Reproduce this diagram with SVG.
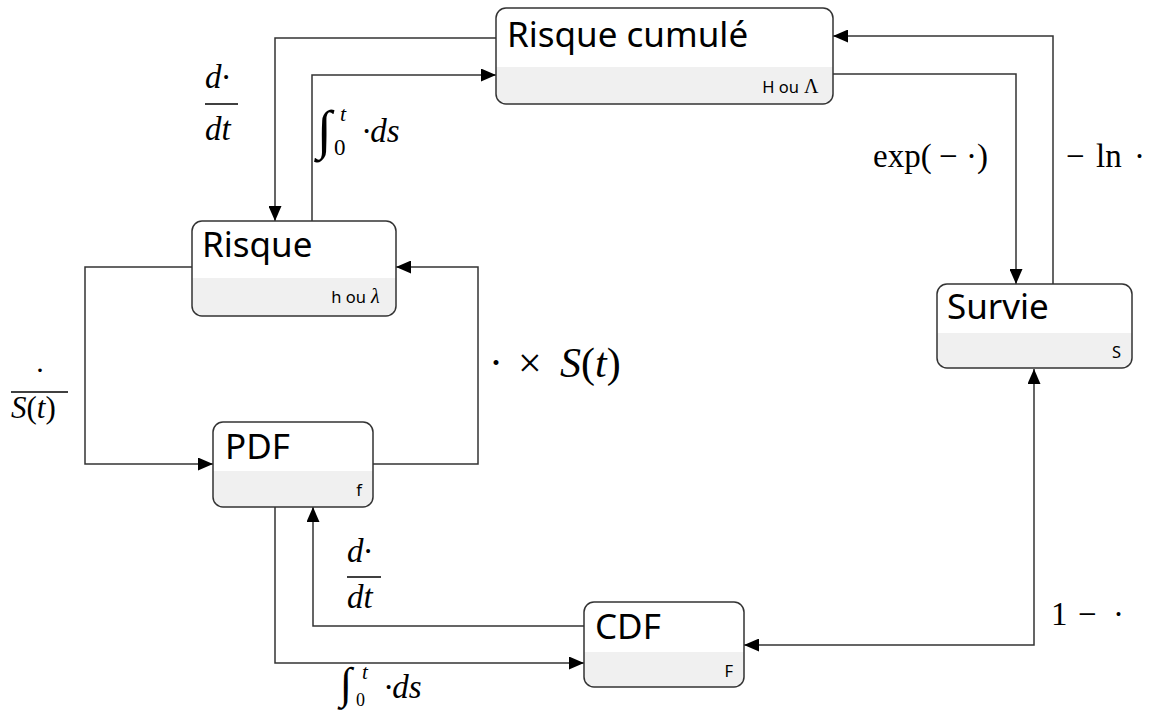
<svg xmlns="http://www.w3.org/2000/svg" width="1157" height="711" viewBox="0 0 1157 711">
<defs>
<marker id="arr" viewBox="0 0 15 13" refX="15" refY="6.5" markerWidth="15" markerHeight="13" markerUnits="userSpaceOnUse" orient="auto-start-reverse">
<path d="M0,0 L15,6.5 L0,13 Z" fill="#000"/>
</marker>
<clipPath id="c1"><rect x="496" y="8" width="337" height="96" rx="10"/></clipPath>
<clipPath id="c2"><rect x="192" y="221" width="204" height="95" rx="10"/></clipPath>
<clipPath id="c3"><rect x="937" y="284" width="195" height="84" rx="10"/></clipPath>
<clipPath id="c4"><rect x="213" y="422" width="160" height="85" rx="10"/></clipPath>
<clipPath id="c5"><rect x="584" y="602" width="160" height="85" rx="10"/></clipPath>
</defs>
<style>
.box{fill:none;stroke:#333;stroke-width:1.5}
.bg{fill:#fff}
.sub{fill:#f0f0f0}
.title{font-family:"Noto Sans","Open Sans",sans-serif;font-size:35px;fill:#000}
.small{font-family:"Noto Sans","Open Sans",sans-serif;font-size:16.5px;fill:#000;text-anchor:end}
.conn{fill:none;stroke:#333;stroke-width:1.5}
.m{font-family:"Liberation Serif","DejaVu Serif",serif;fill:#000}
.i{font-style:italic}
</style>
<rect width="1157" height="711" fill="#fff"/>
<g id="connectors">
<path class="conn" d="M496,38 H275 V221" marker-end="url(#arr)"/>
<path class="conn" d="M312,221 V75 H496" marker-end="url(#arr)"/>
<path class="conn" d="M833,74 H1016 V284" marker-end="url(#arr)"/>
<path class="conn" d="M1053,284 V36 H833" marker-end="url(#arr)"/>
<path class="conn" d="M192,267 H85 V464 H213" marker-end="url(#arr)"/>
<path class="conn" d="M373,464 H478 V267 H396" marker-end="url(#arr)"/>
<path class="conn" d="M275,507 V663 H584" marker-end="url(#arr)"/>
<path class="conn" d="M584,626 H313 V507" marker-end="url(#arr)"/>
<path class="conn" d="M1034,369 V645 H744" marker-start="url(#arr)" marker-end="url(#arr)"/>
</g>
<g id="labels">
<text class="m i" x="205" y="88" font-size="33">d·</text>
<line x1="205" y1="104" x2="238" y2="104" stroke="#000" stroke-width="1.3"/>
<text class="m i" x="205" y="140" font-size="33">dt</text>
<text class="m" x="317" y="148" font-size="54">∫</text>
<text class="m i" x="340" y="121" font-size="22">t</text>
<text class="m" x="334" y="155" font-size="23">0</text>
<text class="m i" x="362" y="142" font-size="33">·ds</text>
<text class="m" x="35" y="380" font-size="30">·</text>
<line x1="11" y1="392" x2="68" y2="392" stroke="#000" stroke-width="1.3"/>
<text class="m" x="11" y="418" font-size="31"><tspan class="i">S</tspan>(<tspan class="i">t</tspan>)</text>
<text class="m" font-size="42" y="377"><tspan x="489">·</tspan><tspan x="518">×</tspan><tspan x="560" class="i">S</tspan><tspan>(</tspan><tspan class="i">t</tspan><tspan>)</tspan></text>
<text class="m" font-size="33" y="167"><tspan x="873">exp(</tspan><tspan x="939">−</tspan><tspan x="966">·)</tspan></text>
<text class="m" font-size="33" y="167"><tspan x="1066">−</tspan><tspan x="1096">ln</tspan><tspan x="1134">·</tspan></text>
<text class="m i" x="347" y="562" font-size="33">d·</text>
<line x1="347" y1="577" x2="381" y2="577" stroke="#000" stroke-width="1.3"/>
<text class="m i" x="347" y="608" font-size="33">dt</text>
<text class="m" x="340" y="698" font-size="44">∫</text>
<text class="m i" x="362" y="679" font-size="21">t</text>
<text class="m" x="356" y="706" font-size="18">0</text>
<text class="m i" x="384" y="698" font-size="33">·ds</text>
<text class="m" font-size="33" y="625"><tspan x="1051">1</tspan><tspan x="1078">−</tspan><tspan x="1113">·</tspan></text>
</g>
<g id="node-risque-cumule">
<g clip-path="url(#c1)"><rect class="bg" x="496" y="8" width="337" height="96"/><rect class="sub" x="496" y="67" width="337" height="37"/></g>
<rect class="box" x="496" y="8" width="337" height="96" rx="10"/>
<text class="title" x="507" y="47">Risque cumulé</text>
<text class="small" x="799" y="93">H ou</text>
<text class="m" x="804" y="93" font-size="20">Λ</text>
</g>
<g id="node-risque">
<g clip-path="url(#c2)"><rect class="bg" x="192" y="221" width="204" height="95"/><rect class="sub" x="192" y="278" width="204" height="38"/></g>
<rect class="box" x="192" y="221" width="204" height="95" rx="10"/>
<text class="title" x="202" y="257">Risque</text>
<text class="small" x="366" y="303">h ou</text>
<text class="m i" x="371" y="303" font-size="20">λ</text>
</g>
<g id="node-survie">
<g clip-path="url(#c3)"><rect class="bg" x="937" y="284" width="195" height="84"/><rect class="sub" x="937" y="333" width="195" height="35"/></g>
<rect class="box" x="937" y="284" width="195" height="84" rx="10"/>
<text class="title" x="947" y="319">Survie</text>
<text class="small" x="1121" y="358">S</text>
</g>
<g id="node-pdf">
<g clip-path="url(#c4)"><rect class="bg" x="213" y="422" width="160" height="85"/><rect class="sub" x="213" y="471" width="160" height="36"/></g>
<rect class="box" x="213" y="422" width="160" height="85" rx="10"/>
<text class="title" x="225" y="459">PDF</text>
<text class="small" x="362" y="496">f</text>
</g>
<g id="node-cdf">
<g clip-path="url(#c5)"><rect class="bg" x="584" y="602" width="160" height="85"/><rect class="sub" x="584" y="652" width="160" height="35"/></g>
<rect class="box" x="584" y="602" width="160" height="85" rx="10"/>
<text class="title" x="595" y="639">CDF</text>
<text class="small" x="733" y="677">F</text>
</g>
</svg>
